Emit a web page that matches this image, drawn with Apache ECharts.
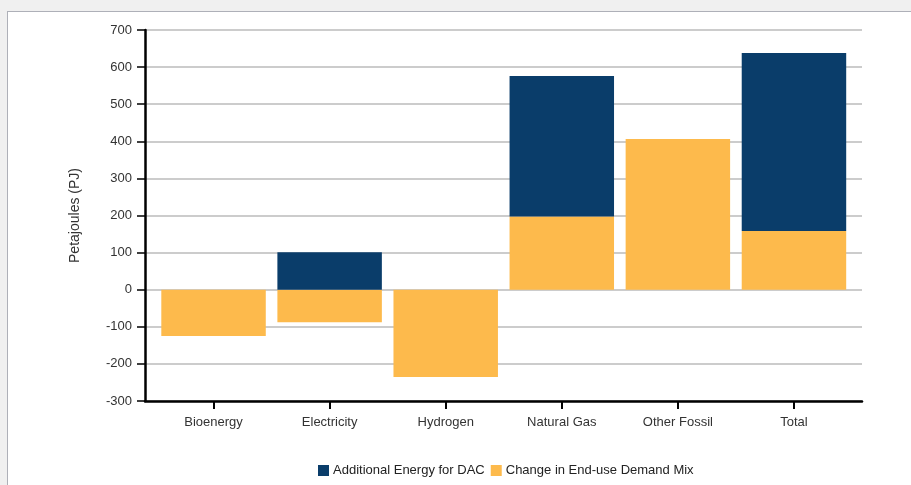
<!DOCTYPE html>
<html>
<head>
<meta charset="utf-8">
<script src="https://cdn.jsdelivr.net/npm/echarts@6/dist/echarts.min.js"></script>
<style>
  html, body { margin: 0; padding: 0; background: #f0f0f0; width: 911px; height: 485px; overflow: hidden; }
  #panel { position: absolute; left: 7px; top: 11px; width: 930px; height: 500px; background: #ffffff; border-left: 1px solid #aeb0b8; border-top: 1px solid #aeb0b8; }
  #chart { position: absolute; left: 0; top: 0; width: 911px; height: 485px; }
</style>
</head>
<body>
<div id="panel"></div>
<div id="chart"></div>
<script>
const categories = ['Bioenergy', 'Electricity', 'Hydrogen', 'Natural Gas', 'Other Fossil', 'Total'];
const demandMix = [-125, -88, -235, 197, 406, 158];
const dacEnergy = [0, 101, 0, 379, 0, 480];
const seriesNames = ['Additional Energy for DAC', 'Change in End-use Demand Mix'];
const yTicks = { min: -300, max: 700, interval: 100 };

const chart = echarts.init(document.getElementById('chart'), null, { renderer: 'canvas' });
const txt = '#333333';
chart.setOption({
  backgroundColor: 'transparent',
  animation: false,
  textStyle: { fontFamily: 'Liberation Sans, Arial, sans-serif' },
  legend: {
    data: seriesNames,
    left: 313, top: 459,
    itemWidth: 11, itemHeight: 11, itemGap: 6,
    icon: 'rect',
    textStyle: { fontSize: 13, color: '#222', padding: [0, 0, 0, -1] }
  },
  grid: [
    { left: 145, top: 30, width: 717, height: 371 },
    { left: 155.5, top: 30, width: 696.5, height: 371 }
  ],
  xAxis: [
    { gridIndex: 0, type: 'category', data: categories,
      axisLine: { onZero: false, lineStyle: { color: '#000', width: 2.5 } },
      axisTick: { show: false }, axisLabel: { show: false }, splitLine: { show: false } },
    { gridIndex: 1, type: 'category', data: categories,
      axisLine: { show: false, onZero: false },
      axisTick: { show: true, alignWithLabel: true, length: 8, lineStyle: { color: '#000', width: 2 } },
      axisLabel: { fontSize: 13, color: txt, margin: 15 } }
  ],
  yAxis: [
    { gridIndex: 0, type: 'value', min: yTicks.min, max: yTicks.max, interval: yTicks.interval,
      name: 'Petajoules (PJ)', nameLocation: 'middle', nameGap: 63,
      nameTextStyle: { fontSize: 14, color: txt },
      axisLine: { show: true, lineStyle: { color: '#000', width: 2.5 } },
      axisTick: { show: true, length: 8, lineStyle: { color: '#000', width: 1.5 } },
      axisLabel: { fontSize: 13, color: txt, margin: 13 },
      splitLine: { show: true, lineStyle: { color: '#cccccc', width: 2 } } },
    { gridIndex: 1, type: 'value', min: yTicks.min, max: yTicks.max, interval: yTicks.interval, show: false,
      splitLine: { show: false } }
  ],
  series: [
    { name: seriesNames[1], type: 'bar', stack: 'total', xAxisIndex: 1, yAxisIndex: 1,
      data: demandMix, barCategoryGap: '10%', itemStyle: { color: '#fdba4c' } },
    { name: seriesNames[0], type: 'bar', stack: 'total', xAxisIndex: 1, yAxisIndex: 1,
      data: dacEnergy, barCategoryGap: '10%', itemStyle: { color: '#0a3d6a' } }
  ]
});
</script>
</body>
</html>
